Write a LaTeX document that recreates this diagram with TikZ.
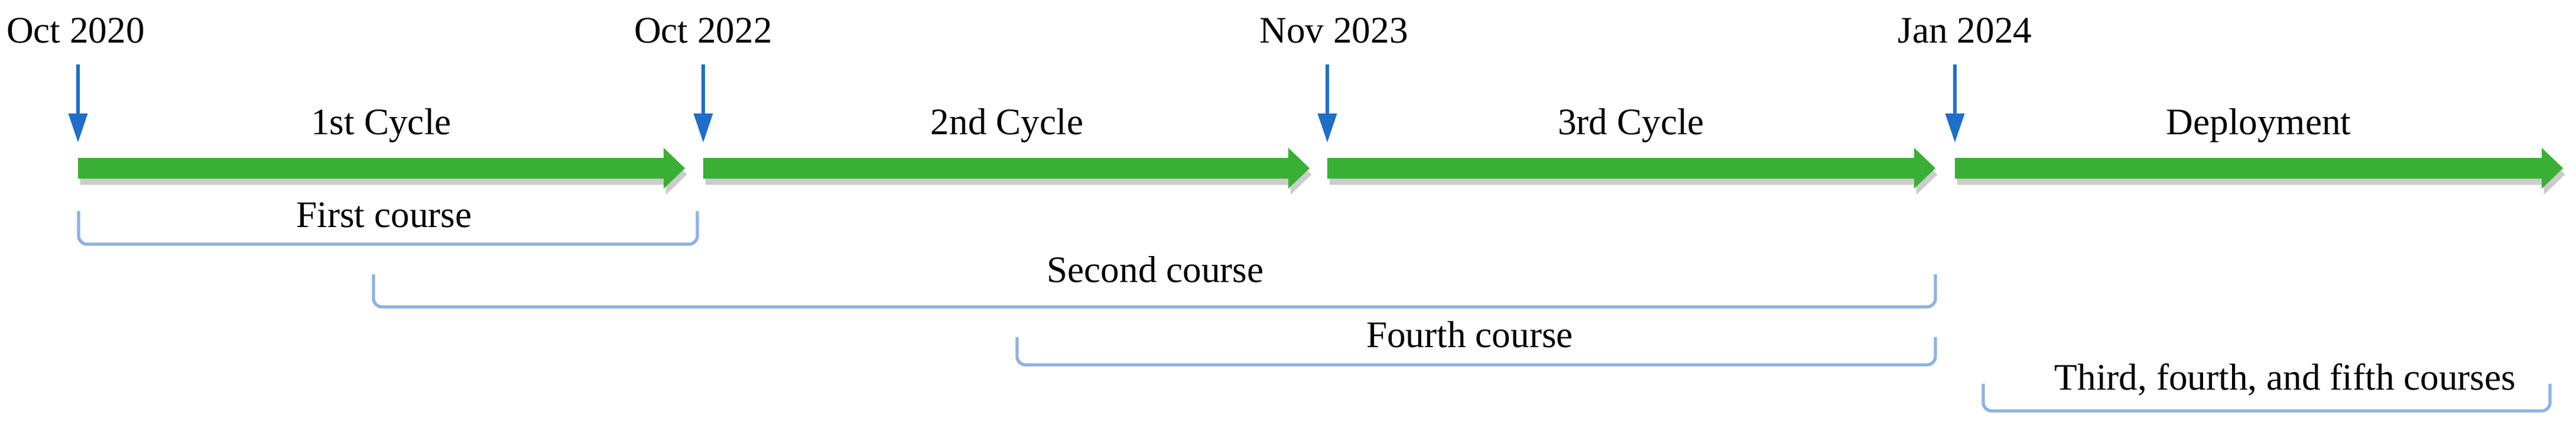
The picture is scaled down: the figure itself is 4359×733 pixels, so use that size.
\documentclass[tikz,border=0pt]{standalone}
\usepackage{fontspec}
\setmainfont{Liberation Serif}
\usetikzlibrary{shapes.arrows,arrows.meta,shadows}
\definecolor{ggreen}{HTML}{3AAF35}
\definecolor{pblue}{HTML}{1F6FC8}
\definecolor{lblue}{HTML}{8EB2E4}
\tikzset{
  lbl/.style={font=\fontsize{18}{22}\selectfont, inner sep=0pt},
  mark arrow/.style={pblue, line width=1.5pt, -{Triangle[length=14pt,width=9pt]}},
  brk/.style={lblue, line width=1.5pt, rounded corners=4pt},
  garrow/.style={fill=ggreen, draw=none, drop shadow={shadow xshift=1pt, shadow yshift=-3pt, fill=black!40, opacity=0.5}}
}
\begin{document}
\begin{tikzpicture}[x=0.01cm,y=-0.01cm]
\useasboundingbox (0,0) rectangle (4359,733);
% green arrows
\foreach \s/\e/\n in {132/1159/a1,1190/2216/a2,2246/3275/a3,3308/4337/a4}{
  \path[garrow] (\s,267) -- (\e-36,267) -- (\e-36,250) -- (\e,284.5) -- (\e-36,319) -- (\e-36,302) -- (\s,302) -- cycle;
  \coordinate (\n) at (\s,284);
}
% dates and markers
\node[lbl] (d1) at (128,52) {Oct 2020};
\node[lbl] (d2) at (1190,52) {Oct 2022};
\node[lbl] (d3) at (2257,52) {Nov 2023};
\node[lbl] (d4) at (3325,52) {Jan 2024};
\foreach \x/\n in {132/m1,1190/m2,2246/m3,3308/m4}{
  \coordinate (\n s) at (\x,109);
  \coordinate (\n e) at (\x,241);
  \draw[mark arrow] (\n s) -- (\n e);
}
% cycle labels
\node[lbl] (c1) at (645,212) {1st Cycle};
\node[lbl] (c2) at (1704,212) {2nd Cycle};
\node[lbl] (c3) at (2760,212) {3rd Cycle};
\node[lbl] (c4) at (3822,212) {Deployment};
% brackets
\node[lbl] (k1) at (650,364) {First course};
\draw[brk] (133,357) -- (133,413) -- (1180,413) -- (1180,357);
\node[lbl] (k2) at (1955,456) {Second course};
\draw[brk] (632,464) -- (632,519) -- (3275,519) -- (3275,464);
\node[lbl] (k3) at (2487,566) {Fourth course};
\draw[brk] (1721,570) -- (1721,617) -- (3275,617) -- (3275,570);
\node[lbl] (k4) at (3867,642) {Third, fourth, and fifth courses};
\draw[brk] (3356,649) -- (3356,695) -- (4315,695) -- (4315,649);
\end{tikzpicture}
\end{document}
